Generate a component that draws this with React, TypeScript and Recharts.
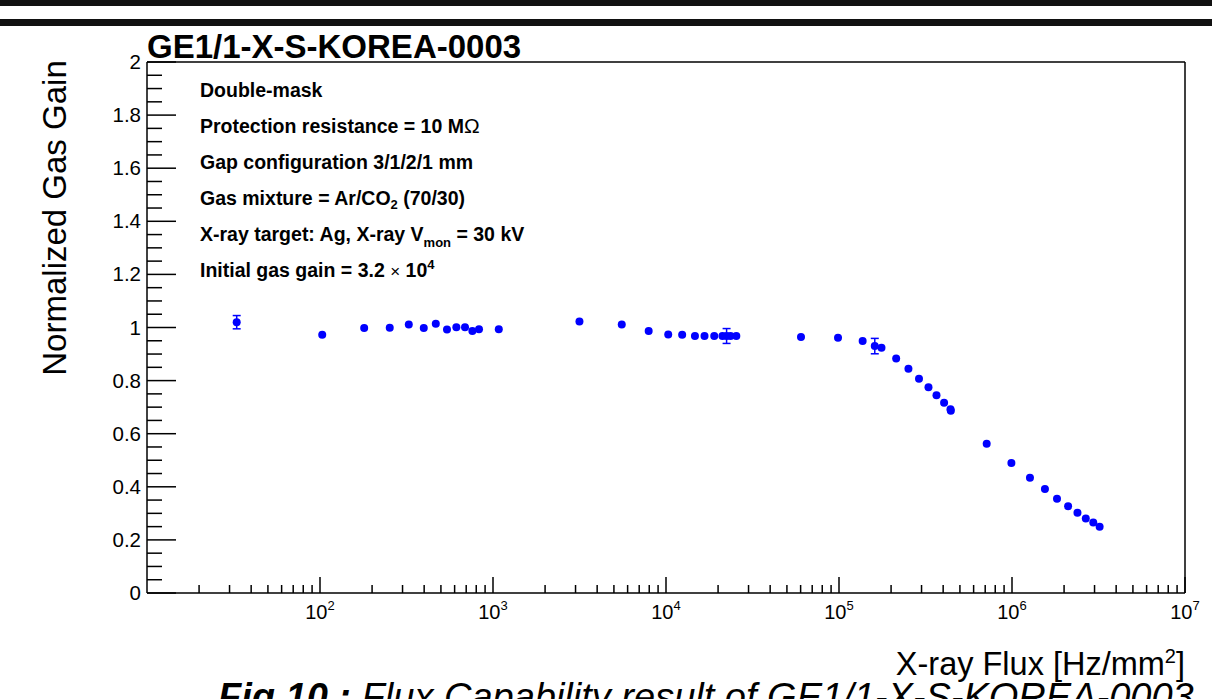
import { ScatterChart, Scatter, XAxis, YAxis, ErrorBar } from "recharts"

// X-ray flux [Hz/mm^2]
const fluxValues = [
  33, 103, 180, 253, 326, 398, 467, 542, 614, 689, 760, 830, 1080,
  3160, 5550, 7940, 10300, 12400, 14700, 16700, 19000, 21200, 22400, 23600, 25500,
  60300, 98700, 137000, 161000, 176000, 214000, 252000, 290000, 329000, 366000,
  405000, 441000, 443000, 714000, 992000, 1270000, 1550000, 1820000, 2110000,
  2390000, 2670000, 2950000, 3210000
]

// normalized gas gain
const gainValues = [
  1.02, 0.973, 0.998, 0.999, 1.011, 0.998, 1.014, 0.992, 1.001, 1.001, 0.987, 0.993, 0.993,
  1.023, 1.011, 0.987, 0.974, 0.973, 0.968, 0.968, 0.968, 0.968, 0.968, 0.968, 0.968,
  0.964, 0.961, 0.949, 0.93, 0.924, 0.883, 0.845, 0.807, 0.775, 0.745,
  0.717, 0.692, 0.686, 0.562, 0.49, 0.434, 0.392, 0.355, 0.327,
  0.302, 0.281, 0.266, 0.25
]

const gainErrors = [
  0.025, 0, 0, 0, 0, 0, 0, 0, 0, 0, 0, 0, 0,
  0, 0, 0, 0, 0, 0, 0, 0, 0, 0.028, 0, 0,
  0, 0, 0, 0.029, 0, 0, 0, 0, 0, 0,
  0, 0, 0, 0, 0, 0, 0, 0, 0,
  0, 0, 0, 0
]

const xMajorTicks = [100, 1000, 10000, 100000, 1000000, 10000000]
const yMajorTicks = [0, 0.2, 0.4, 0.6, 0.8, 1, 1.2, 1.4, 1.6, 1.8, 2]

const data = fluxValues.map((flux, i) => ({
  flux,
  gain: gainValues[i],
  err: gainErrors[i]
}))

// minor ticks: 2..9 x 10^n on x, every 0.05 on y
const xTicks: number[] = []
for (let e = 1; e < 7; e++) {
  for (let m = 1; m < 10; m++) {
    const v = m * Math.pow(10, e)
    if (v > 10) xTicks.push(v)
  }
}
xTicks.push(10000000)

const yTicks: number[] = []
for (let i = 0; i <= 40; i++) yTicks.push(Math.round(i * 5) / 100)

const FONT = '"Liberation Sans", Arial, Helvetica, sans-serif'

function XTick(props: any) {
  const { x, y, payload } = props
  const v = payload.value
  const major = xMajorTicks.includes(v)
  const exp = Math.round(Math.log10(v))
  return (
    <g>
      <line x1={x} x2={x} y1={y} y2={y - (major ? 16 : 8)} stroke="#000" strokeWidth={1.5} />
      {major && (
        <text x={x} y={y + 26} textAnchor="middle" fontSize={20} fontFamily={FONT} fill="#000">
          10<tspan dy={-9} fontSize={13}>{exp}</tspan>
        </text>
      )}
    </g>
  )
}

function YTick(props: any) {
  const { x, y, payload } = props
  const v = payload.value
  const major = yMajorTicks.some((t) => Math.abs(t - v) < 1e-6)
  return (
    <g>
      <line x1={x} x2={x + (major ? 29 : 15)} y1={y} y2={y} stroke="#000" strokeWidth={1.5} />
      {major && (
        <text x={x - 6} y={y + 7} textAnchor="end" fontSize={20.5} fontFamily={FONT} fill="#000">
          {String(Number(v.toFixed(2)))}
        </text>
      )}
    </g>
  )
}

function Dot(props: any) {
  const { cx, cy } = props
  return <circle cx={cx} cy={cy} r={4} fill="#0000ff" />
}

export default function App() {
  return (
    <div style={{ position: "absolute", left: 0, top: 0, width: 1212, height: 699, background: "#fff", overflow: "hidden" }}>
      <div style={{ position: "absolute", left: 0, top: 0 }}>
        <ScatterChart width={1212} height={699} margin={{ top: 62, right: 27, bottom: 0, left: 0 }}>
          <XAxis
            dataKey="flux"
            type="number"
            scale="log"
            domain={[10, 10000000]}
            allowDataOverflow
            ticks={xTicks}
            interval={0}
            tick={XTick}
            tickLine={false}
            tickSize={0}
            tickMargin={0}
            height={106}
            axisLine={{ stroke: "#000", strokeWidth: 1.5 }}
          />
          <YAxis
            dataKey="gain"
            type="number"
            domain={[0, 2]}
            allowDataOverflow
            ticks={yTicks}
            interval={0}
            tick={YTick}
            tickLine={false}
            tickSize={0}
            tickMargin={0}
            width={147}
            axisLine={{ stroke: "#000", strokeWidth: 1.5 }}
          />
          <Scatter data={data} shape={Dot} fill="#0000ff" isAnimationActive={false}>
            <ErrorBar dataKey="err" direction="y" width={4} stroke="#0000ff" strokeWidth={1.5} />
          </Scatter>
        </ScatterChart>
      </div>
      <svg
        width={1212}
        height={699}
        style={{ position: "absolute", left: 0, top: 0, pointerEvents: "none" }}
        fontFamily={FONT}
      >
        <rect x={0} y={0} width={1212} height={6} fill="#111" />
        <rect x={0} y={19} width={1212} height={7} fill="#111" />

        {/* frame: top and right */}
        <line x1={147} x2={1185} y1={62} y2={62} stroke="#000" strokeWidth={1.5} />
        <line x1={1185} x2={1185} y1={62} y2={593} stroke="#000" strokeWidth={1.5} />

        <text x={147} y={58} fontSize={33} fontWeight="bold" fill="#000">GE1/1-X-S-KOREA-0003</text>

        <g fontSize={19.5} fontWeight="bold" fill="#000">
          <text x={200} y={97}>Double-mask</text>
          <text x={200} y={133}>
            Protection resistance = 10 M<tspan fontWeight="normal" fontSize={21}>Ω</tspan>
          </text>
          <text x={200} y={169}>Gap configuration 3/1/2/1 mm</text>
          <text x={200} y={205}>
            Gas mixture = Ar/CO<tspan dy={4} fontSize={13}>2</tspan>
            <tspan dy={-4}> (70/30)</tspan>
          </text>
          <text x={200} y={241}>
            X-ray target: Ag, X-ray V<tspan dy={6} fontSize={13}>mon</tspan>
            <tspan dy={-6}> = 30 kV</tspan>
          </text>
          <text x={200} y={277}>
            Initial gas gain = 3.2 <tspan fontWeight="normal" fontSize={17}>×</tspan> 10
            <tspan dy={-8} fontSize={13}>4</tspan>
          </text>
        </g>

        <text x={66} y={218} transform="rotate(-90 66 218)" textAnchor="middle" fontSize={33} fill="#000">
          Normalized Gas Gain
        </text>

        <text x={1185} y={675} textAnchor="end" fontSize={32.5} fill="#000">
          X-ray Flux [Hz/mm<tspan dy={-12} fontSize={20}>2</tspan>
          <tspan dy={12}>]</tspan>
        </text>

        <text x={218} y={710} fontSize={38} fontStyle="italic" fill="#000">
          <tspan fontWeight="bold">Fig.10 :</tspan> Flux Capability result of GE1/1-X-S-KOREA-0003
        </text>
      </svg>
    </div>
  )
}
